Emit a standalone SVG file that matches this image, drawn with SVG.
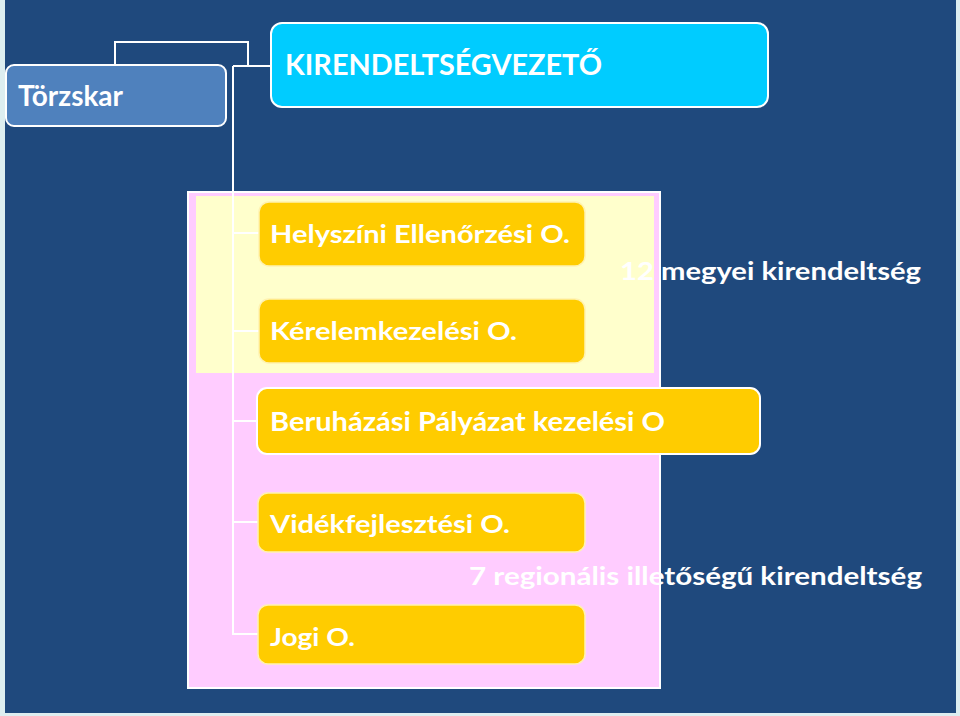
<svg xmlns="http://www.w3.org/2000/svg" width="960" height="716" viewBox="0 0 960 716">
<style>
.t{font-family:Lato,"Open Sans","Liberation Sans",sans-serif;font-weight:700;fill:#ffffff}
.box{stroke:#ffffff;stroke-width:2}
.org{fill:#FFCC00;stroke:#FFF2B0;stroke-width:1.5}
.con{fill:none;stroke:#ffffff;stroke-width:2}
</style>
<rect x="0" y="0" width="960" height="716" fill="#DDEEF0"/>
<rect x="5" y="0" width="951" height="713" fill="#1F497D"/>
<g id="region-panel">
<rect x="188" y="192" width="472" height="496" fill="#FFCCFF" stroke="#ffffff" stroke-width="2"/>
<rect x="196" y="196" width="458" height="177" fill="#FFFFCC"/>
</g>
<g id="connectors">
<path class="con" d="M115,65 V42 H248 V66"/>
<path class="con" d="M233,66 H271"/>
<path class="con" d="M233,66 V634 H259"/>
<path class="con" d="M233,233 H260"/>
<path class="con" d="M233,331 H260"/>
<path class="con" d="M233,421 H258"/>
<path class="con" d="M233,522 H259"/>
</g>
<g id="torzskar">
<rect class="box" x="6" y="65" width="220" height="61" rx="8" fill="#4F81BD"/>
<text class="t" x="18" y="106" font-size="28" textLength="105" lengthAdjust="spacingAndGlyphs">Törzskar</text>
</g>
<g id="kirendeltsegvezeto">
<rect class="box" x="271" y="23" width="497" height="84" rx="11" fill="#00CCFF"/>
<text class="t" x="285" y="75" font-size="28" textLength="317" lengthAdjust="spacingAndGlyphs">KIRENDELTSÉGVEZETŐ</text>
</g>
<g id="helyszini">
<rect class="org" x="259" y="202" width="326" height="64" rx="10"/>
<text class="t" x="270" y="243" font-size="24" textLength="300" lengthAdjust="spacingAndGlyphs">Helyszíni Ellenőrzési O.</text>
</g>
<g id="kerelemkezelesi">
<rect class="org" x="259" y="299" width="326" height="64" rx="10"/>
<text class="t" x="270" y="340" font-size="24" textLength="247" lengthAdjust="spacingAndGlyphs">Kérelemkezelési O.</text>
</g>
<g id="beruhazasi">
<rect class="box" x="257" y="388" width="503" height="66" rx="10" fill="#FFCC00"/>
<text class="t" x="270" y="431" font-size="26" textLength="395" lengthAdjust="spacingAndGlyphs">Beruházási Pályázat kezelési O</text>
</g>
<g id="videkfejlesztesi">
<rect class="org" x="258" y="493" width="327" height="59" rx="10"/>
<text class="t" x="270" y="533" font-size="25" textLength="240" lengthAdjust="spacingAndGlyphs">Vidékfejlesztési O.</text>
</g>
<g id="jogi">
<rect class="org" x="258" y="605" width="327" height="59" rx="10"/>
<text class="t" x="270" y="646" font-size="25" textLength="85" lengthAdjust="spacingAndGlyphs">Jogi O.</text>
</g>
<g id="label-megyei">
<text class="t" x="620" y="280" font-size="25" textLength="301" lengthAdjust="spacingAndGlyphs">12 megyei kirendeltség</text>
</g>
<g id="label-regionalis">
<text class="t" x="469" y="585" font-size="25" textLength="453" lengthAdjust="spacingAndGlyphs">7 regionális illetőségű kirendeltség</text>
</g>
</svg>
